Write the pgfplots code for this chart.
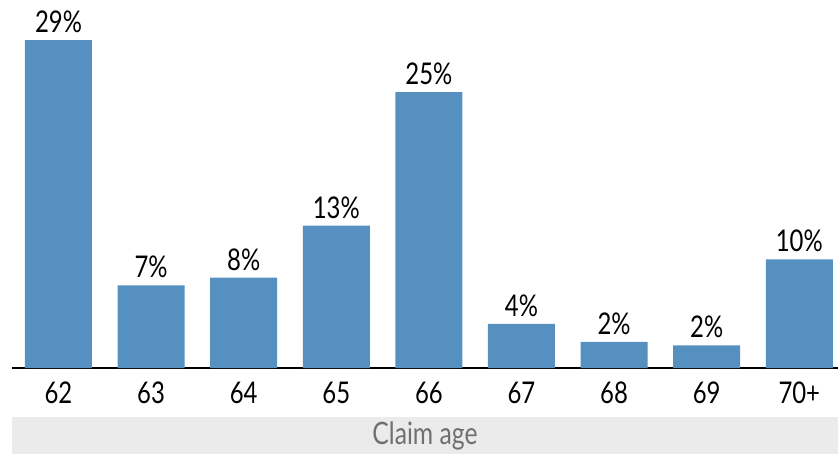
\documentclass[border=0pt]{standalone}
\usepackage{fontspec}
\setmainfont{Lato}[FakeStretch=0.8]
\usepackage{pgfplots}
\usepackage{pgfplotstable}
\pgfplotsset{compat=1.18}
\definecolor{barblue}{HTML}{5590C0}
\definecolor{bandgray}{HTML}{EBEBEB}
\definecolor{labelgray}{HTML}{707070}

\pgfplotstableread{
x y lbl
0 29.0 29\%
1 7.3 7\%
2 8.0 8\%
3 12.6 13\%
4 24.4 25\%
5 3.9 4\%
6 2.3 2\%
7 2.0 2\%
8 9.6 10\%
}\claimdata

\begin{document}
\begin{tikzpicture}
\begin{axis}[
    name=main,
    scale only axis,
    width=826bp, height=368bp,
    xmin=-0.502, xmax=8.418,
    ymin=0, ymax=32.54,
    axis x line*=bottom,
    axis y line=none,
    x axis line style={-, line width=2.5bp, black},
    major tick length=0pt,
    xtick={0,...,8},
    xticklabels={62,63,64,65,66,67,68,69,70+},
    xticklabel style={font=\fontsize{30}{32}\selectfont, inner sep=0pt, yshift=-14bp},
    ybar, bar width=67bp,
    nodes near coords,
    point meta=explicit symbolic,
    every node near coord/.append style={font=\fontsize{30}{32}\selectfont, inner sep=0pt, yshift=7bp},
    xlabel={Claim age},
    xlabel style={at={(axis description cs:0.5,0)}, anchor=north, yshift=-49bp,
        fill=bandgray, minimum width=826bp, minimum height=37bp, inner sep=0pt,
        text=labelgray, font=\fontsize{31}{33}\selectfont},
    clip=false,
]
\addplot[fill=barblue, draw=none] table[x=x, y=y, meta=lbl]{\claimdata};
\end{axis}
\pgfresetboundingbox
\path ([shift={(-12bp,-85bp)}]main.south west) rectangle (main.north east);
\end{tikzpicture}
\end{document}
